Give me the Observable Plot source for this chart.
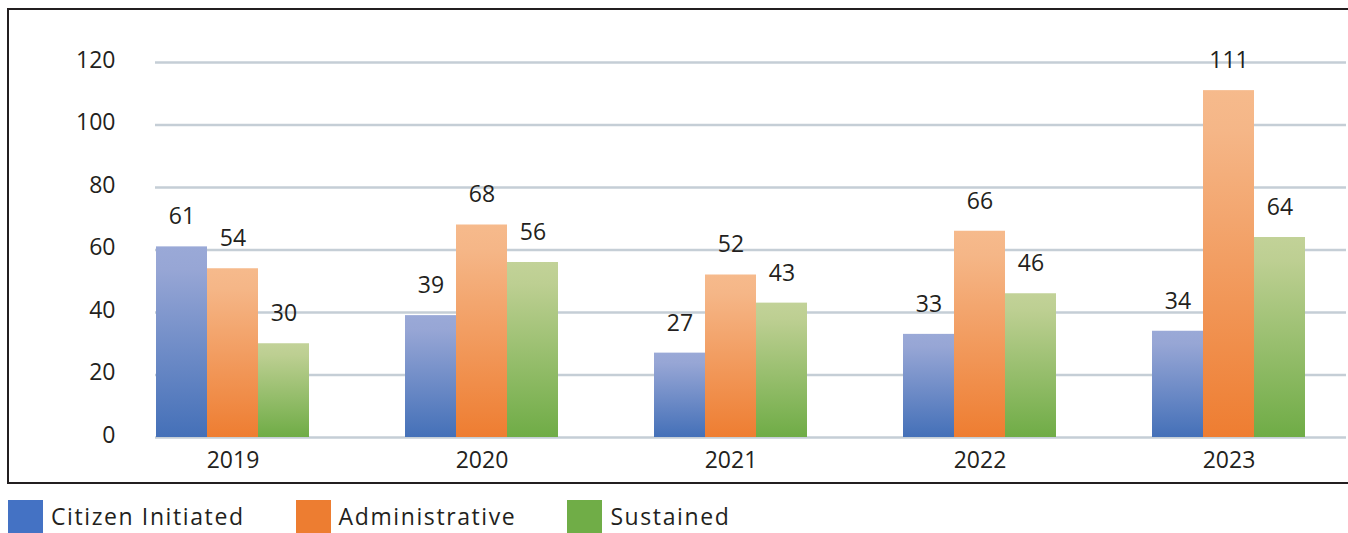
<!DOCTYPE html>
<html>
<head>
<meta charset="utf-8">
<script src="https://cdn.jsdelivr.net/npm/d3@7"></script>
<script src="https://cdn.jsdelivr.net/npm/@observablehq/plot@0.6"></script>
<style>
  html, body { margin: 0; padding: 0; background: #fff; }
  body { width: 1348px; height: 533px; position: relative; overflow: hidden;
         font-family: "Open Sans", sans-serif; color: #231f20; }
  #box { position: absolute; left: 7px; top: 8px; width: 1360px; height: 476px;
         box-sizing: border-box; border: 2.5px solid #231f20; }
  .layer { position: absolute; left: 0; top: 0; }
  #legend { position: absolute; left: 8px; top: 500px; display: flex; align-items: center; }
  .item { display: flex; align-items: center; margin-right: 51px; }
  .swatch { width: 35px; height: 33px; margin-right: 8px; }
  .name { font-size: 23px; letter-spacing: 1.6px; line-height: 33px; }
</style>
</head>
<body>
<svg width="0" height="0" style="position:absolute">
  <defs>
    <linearGradient id="fill-citizen" x1="0" y1="0" x2="0" y2="1">
      <stop offset="0" stop-color="#9aa9d7"/>
      <stop offset="0.12" stop-color="#97a6d5"/>
      <stop offset="1" stop-color="#4470b8"/>
    </linearGradient>
    <linearGradient id="fill-admin" x1="0" y1="0" x2="0" y2="1">
      <stop offset="0" stop-color="#f6ba8c"/>
      <stop offset="0.12" stop-color="#f5b687"/>
      <stop offset="1" stop-color="#ee7d31"/>
    </linearGradient>
    <linearGradient id="fill-sustained" x1="0" y1="0" x2="0" y2="1">
      <stop offset="0" stop-color="#c2d298"/>
      <stop offset="0.12" stop-color="#bdcf92"/>
      <stop offset="1" stop-color="#6fac46"/>
    </linearGradient>
  </defs>
</svg>
<div id="box"></div>
<div id="grid" class="layer"></div>
<div id="bars" class="layer"></div>
<div id="legend"></div>
<script>
// Complaint counts by year and type
const years = ["2019", "2020", "2021", "2022", "2023"];
const seriesNames = ["Citizen Initiated", "Administrative", "Sustained"];
const citizenInitiated = [61, 39, 27, 33, 34];
const administrative = [54, 68, 52, 66, 111];
const sustained = [30, 56, 43, 46, 64];
const yTicks = [0, 20, 40, 60, 80, 100, 120];

const swatchColors = ["#4472c4", "#ed7d31", "#70ad47"];
const barFills = ["url(#fill-citizen)", "url(#fill-admin)", "url(#fill-sustained)"];

// Long table built from the named arrays
const valuesBySeries = [citizenInitiated, administrative, sustained];
const rows = years.flatMap((year, i) =>
  seriesNames.map((s, j) => ({ year, series: s, value: valuesBySeries[j][i] }))
);

// Shared frame settings for both layers
const frame = {
  width: 1348,
  height: 485,
  marginTop: 62,
  marginBottom: 48,
  marginLeft: 155,
  marginRight: 2,
  style: { fontFamily: "Open Sans, sans-serif", fontSize: "23px", color: "#231f20", background: "transparent", overflow: "visible" }
};

// Back layer: value axis and full-width gridlines
const gridLayer = Plot.plot({
  ...frame,
  y: { domain: [0, 120], label: null },
  marks: [
    Plot.ruleY(yTicks, { stroke: "#c5ced6", strokeWidth: 2.6 }),
    Plot.axisY(yTicks, { tickSize: 0, tickPadding: 40, dy: -2, fontSize: 23, fill: "#231f20", label: null })
  ]
});
document.getElementById("grid").appendChild(gridLayer);

// Front layer: grouped bars with value labels, years along the bottom
const barLayer = Plot.plot({
  ...frame,
  fx: { domain: years, range: [107.5, 1354], paddingInner: 0.378, paddingOuter: 0.189, axis: "bottom", label: null, tickSize: 0, tickPadding: 14 },
  x: { domain: seriesNames, padding: 0, axis: null },
  y: { domain: [0, 120], axis: null },
  color: { domain: seriesNames, range: barFills },
  marks: [
    Plot.barY(rows, { fx: "year", x: "series", y: "value", fill: "series" }),
    Plot.text(rows, { fx: "year", x: "series", y: "value", text: d => String(d.value), dy: -30, fill: "#231f20", fontSize: 23 })
  ]
});
document.getElementById("bars").appendChild(barLayer);

// Legend below the chart
const legend = d3.select("#legend");
seriesNames.forEach((name, i) => {
  const item = legend.append("div").attr("class", "item");
  item.append("div").attr("class", "swatch").style("background", swatchColors[i]);
  item.append("div").attr("class", "name").text(name);
});
</script>
</body>
</html>
